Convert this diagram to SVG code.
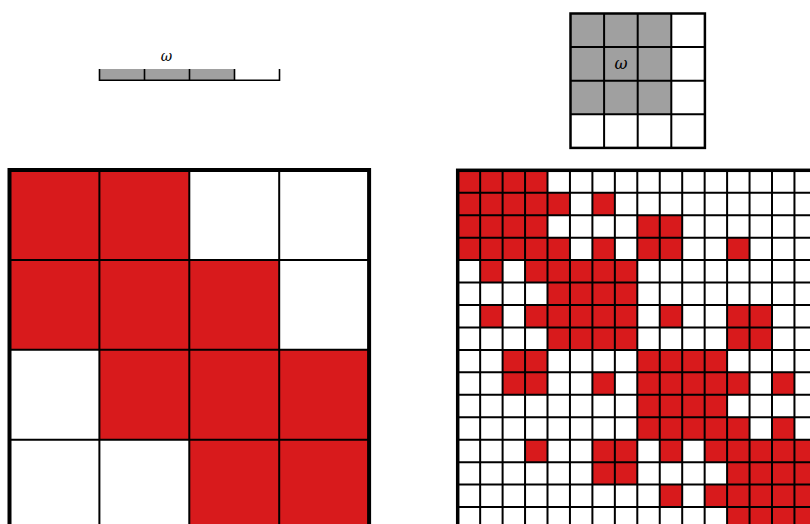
<svg xmlns="http://www.w3.org/2000/svg" width="810" height="524" viewBox="0 0 810 524">
<defs>
<style>
.red{fill:#d81a1c}
.gray{fill:#a0a0a0}
.grid{fill:none;stroke:#000;stroke-width:2}
.border{fill:none;stroke:#000}
.omega{font-family:"DejaVu Serif","Liberation Serif",serif;font-style:italic;fill:#000;text-anchor:middle}
</style>
</defs>
<rect width="810" height="524" fill="#fff"/>

<g id="kernel-1d">
<rect class="gray" x="99.5" y="69" width="135" height="11"/>
<path class="grid" style="stroke-width:1.6" d="M99.5,69V80.2H279.5V69M144.5,69V80M189.5,69V80M234.5,69V80"/>
<text class="omega" x="166.5" y="61" font-size="14">ω</text>
</g>

<g id="kernel-2d">
<rect class="gray" x="570.5" y="13.5" width="100.8" height="100.8"/>
<path class="grid" d="M604.1,13.5V147.9M637.7,13.5V147.9M671.3,13.5V147.9M570.5,47.1H704.9M570.5,80.7H704.9M570.5,114.3H704.9"/>
<rect class="border" style="stroke-width:2.5" x="570.5" y="13.5" width="134.4" height="134.4"/>
<text class="omega" x="620.9" y="69" font-size="16">ω</text>
</g>

<g id="grid-coarse">
<rect x="9.5" y="170" width="359.6" height="359.6" fill="#fff"/>
<rect class="red" x="9.5" y="170" width="179.8" height="89.9"/>
<rect class="red" x="9.5" y="259.9" width="269.7" height="89.9"/>
<rect class="red" x="99.4" y="349.8" width="269.7" height="89.9"/>
<rect class="red" x="189.3" y="439.7" width="179.8" height="89.9"/>
<path class="grid" d="M99.4,170V529.6M189.3,170V529.6M279.2,170V529.6M9.5,259.9H369.1M9.5,349.8H369.1M9.5,439.7H369.1"/>
<rect class="border" style="stroke-width:4" x="9.5" y="170" width="359.6" height="359.6"/>
</g>

<g id="grid-fine" transform="translate(457.7,170.3)">
<rect x="0" y="0" width="359.2" height="359.2" fill="#fff"/>
<g class="red">
<rect x="0" y="0" width="89.8" height="22.45"/>
<rect x="0" y="22.45" width="112.25" height="22.45"/>
<rect x="134.7" y="22.45" width="22.45" height="22.45"/>
<rect x="0" y="44.9" width="89.8" height="22.45"/>
<rect x="179.6" y="44.9" width="44.9" height="22.45"/>
<rect x="0" y="67.35" width="112.25" height="22.45"/>
<rect x="134.7" y="67.35" width="22.45" height="22.45"/>
<rect x="179.6" y="67.35" width="44.9" height="22.45"/>
<rect x="269.4" y="67.35" width="22.45" height="22.45"/>
<rect x="22.45" y="89.8" width="22.45" height="22.45"/>
<rect x="67.35" y="89.8" width="112.25" height="22.45"/>
<rect x="89.8" y="112.25" width="89.8" height="22.45"/>
<rect x="22.45" y="134.7" width="22.45" height="22.45"/>
<rect x="67.35" y="134.7" width="112.25" height="22.45"/>
<rect x="202.05" y="134.7" width="22.45" height="22.45"/>
<rect x="269.4" y="134.7" width="44.9" height="22.45"/>
<rect x="89.8" y="157.15" width="89.8" height="22.45"/>
<rect x="269.4" y="157.15" width="44.9" height="22.45"/>
<rect x="44.9" y="179.6" width="44.9" height="22.45"/>
<rect x="179.6" y="179.6" width="89.8" height="22.45"/>
<rect x="44.9" y="202.05" width="44.9" height="22.45"/>
<rect x="134.7" y="202.05" width="22.45" height="22.45"/>
<rect x="179.6" y="202.05" width="112.25" height="22.45"/>
<rect x="314.3" y="202.05" width="22.45" height="22.45"/>
<rect x="179.6" y="224.5" width="89.8" height="22.45"/>
<rect x="179.6" y="246.95" width="112.25" height="22.45"/>
<rect x="314.3" y="246.95" width="22.45" height="22.45"/>
<rect x="67.35" y="269.4" width="22.45" height="22.45"/>
<rect x="134.7" y="269.4" width="44.9" height="22.45"/>
<rect x="202.05" y="269.4" width="22.45" height="22.45"/>
<rect x="246.95" y="269.4" width="112.25" height="22.45"/>
<rect x="134.7" y="291.85" width="44.9" height="22.45"/>
<rect x="269.4" y="291.85" width="89.8" height="22.45"/>
<rect x="202.05" y="314.3" width="22.45" height="22.45"/>
<rect x="246.95" y="314.3" width="112.25" height="22.45"/>
<rect x="269.4" y="336.75" width="89.8" height="22.45"/>
</g>
<path class="grid" d="M22.45,0V359.2M44.9,0V359.2M67.35,0V359.2M89.8,0V359.2M112.25,0V359.2M134.7,0V359.2M157.15,0V359.2M179.6,0V359.2M202.05,0V359.2M224.5,0V359.2M246.95,0V359.2M269.4,0V359.2M291.85,0V359.2M314.3,0V359.2M336.75,0V359.2M0,22.45H359.2M0,44.9H359.2M0,67.35H359.2M0,89.8H359.2M0,112.25H359.2M0,134.7H359.2M0,157.15H359.2M0,179.6H359.2M0,202.05H359.2M0,224.5H359.2M0,246.95H359.2M0,269.4H359.2M0,291.85H359.2M0,314.3H359.2M0,336.75H359.2"/>
<rect class="border" style="stroke-width:3.5" x="0" y="0" width="359.2" height="359.2"/>
</g>
</svg>
